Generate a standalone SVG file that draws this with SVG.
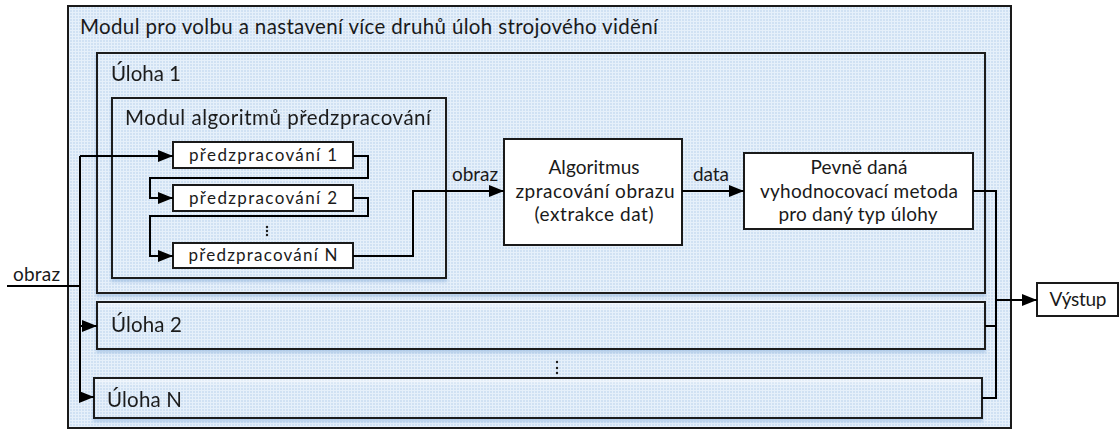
<svg xmlns="http://www.w3.org/2000/svg" width="1120" height="430" viewBox="0 0 1120 430">
  <defs>
    <!-- fine light-blue grid used as the module fill -->
    <pattern id="grid" width="3" height="3" patternUnits="userSpaceOnUse">
      <rect width="3" height="3" fill="#d0e1f3"/>
      <path d="M0 0.5 H3 M0.5 0 V3" stroke="#e6f0fa" stroke-width="1"/>
    </pattern>
    <linearGradient id="sheen" x1="0" y1="0" x2="0" y2="1">
      <stop offset="0" stop-color="#ffffff" stop-opacity="0.55"/>
      <stop offset="0.18" stop-color="#ffffff" stop-opacity="0"/>
    </linearGradient>
    <filter id="shadow" x="-5%" y="-5%" width="110%" height="125%">
      <feGaussianBlur in="SourceAlpha" stdDeviation="1.5"/>
      <feOffset dy="3" result="b"/>
      <feFlood flood-color="#8fb3dc" flood-opacity="0.55"/>
      <feComposite in2="b" operator="in"/>
      <feMerge><feMergeNode/><feMergeNode in="SourceGraphic"/></feMerge>
    </filter>
    <marker id="arrow" markerUnits="userSpaceOnUse" markerWidth="16" markerHeight="13" refX="15" refY="6" orient="auto">
      <path d="M0 0 L15 6 L0 12 Z" fill="#000"/>
    </marker>
  </defs>
  <style>
    .module { fill: url(#grid); stroke: #1a1a1a; stroke-width: 2; }
    .sheen { fill: url(#sheen); stroke: none; }
    .box { fill: #ffffff; stroke: #1a1a1a; stroke-width: 2; }
    .t { font-family: Lato, "Liberation Sans", sans-serif; fill: #1a1a1a; }
    .big { font-size: 20.5px; }
    .mid { font-size: 19px; }
    .small { font-size: 17px; }
    .c { text-anchor: middle; }
    .wire { fill: none; stroke: #000; stroke-width: 2; }
    .dot { fill: #1a1a1a; }
  </style>

  <!-- outer module -->
  <g id="module-outer">
    <rect class="module" x="68" y="6" width="943" height="422"/>
    <text class="t big" x="80" y="34" textLength="578">Modul pro volbu a nastavení více druhů úloh strojového vidění</text>
  </g>

  <!-- task 1 -->
  <g id="task-1" filter="url(#shadow)">
    <rect class="module" x="97" y="53" width="888" height="240"/>
    <text class="t big" x="111" y="81" textLength="70">Úloha 1</text>
  </g>

  <g id="preprocessing-module" filter="url(#shadow)">
    <rect class="module" x="112" y="98" width="334" height="180"/>
    <text class="t big" x="125" y="125" textLength="306">Modul algoritmů předzpracování</text>
  </g>

  <g id="pre-1">
    <rect class="box" x="173" y="142" width="180" height="26"/>
    <text class="t small c" x="263" y="161" textLength="148">předzpracování 1</text>
  </g>
  <g id="pre-2">
    <rect class="box" x="173" y="185" width="180" height="26"/>
    <text class="t small c" x="263" y="204" textLength="148">předzpracování 2</text>
  </g>
  <g id="pre-dots">
    <circle class="dot" cx="267" cy="227" r="1.2"/>
    <circle class="dot" cx="267" cy="231" r="1.2"/>
    <circle class="dot" cx="267" cy="235" r="1.2"/>
  </g>
  <g id="pre-n">
    <rect class="box" x="173" y="243" width="180" height="25"/>
    <text class="t small c" x="263" y="261" textLength="149">předzpracování N</text>
  </g>

  <g id="algorithm">
    <rect class="box" x="504" y="139" width="178" height="106"/>
    <text class="t mid c" x="594" y="174" textLength="91">Algoritmus</text>
    <text class="t mid c" x="595" y="198" textLength="159">zpracování obrazu</text>
    <text class="t mid c" x="594" y="221" textLength="119">(extrakce dat)</text>
  </g>

  <g id="evaluation">
    <rect class="box" x="744" y="153" width="229" height="76"/>
    <text class="t mid c" x="859" y="174" textLength="97">Pevně daná</text>
    <text class="t mid c" x="859" y="198" textLength="198">vyhodnocovací metoda</text>
    <text class="t mid c" x="858" y="221" textLength="159">pro daný typ úlohy</text>
  </g>

  <!-- task 2 and task N -->
  <g id="task-2" filter="url(#shadow)">
    <rect class="module" x="97" y="302" width="888" height="47"/>
    <rect class="sheen" x="98" y="303" width="886" height="45"/>
    <text class="t big" x="111" y="332" textLength="71">Úloha 2</text>
  </g>
  <g id="task-dots">
    <circle class="dot" cx="557" cy="362" r="1.2"/>
    <circle class="dot" cx="557" cy="368" r="1.2"/>
    <circle class="dot" cx="557" cy="373" r="1.2"/>
  </g>
  <g id="task-n" filter="url(#shadow)">
    <rect class="module" x="94" y="378" width="888" height="40"/>
    <rect class="sheen" x="95" y="379" width="886" height="38"/>
    <text class="t big" x="107" y="407" textLength="75">Úloha N</text>
  </g>

  <g id="output">
    <rect class="box" x="1037" y="283" width="81" height="33"/>
    <text class="t mid c" x="1078" y="306" textLength="57">Výstup</text>
  </g>

  <!-- connectors -->
  <g id="connectors">
    <path class="wire" d="M7 286 H80"/>
    <path class="wire" d="M80 156 V397"/>
    <path class="wire" d="M80 156 H173" marker-end="url(#arrow)"/>
    <path class="wire" d="M80 326 H97" marker-end="url(#arrow)"/>
    <path class="wire" d="M80 397 H94" marker-end="url(#arrow)"/>
    <path class="wire" d="M353 156 H368 V178 H150 V198 H173" marker-end="url(#arrow)"/>
    <path class="wire" d="M353 198 H368 V216 H150 V256 H173" marker-end="url(#arrow)"/>
    <path class="wire" d="M353 256 H413 V191 H504" marker-end="url(#arrow)"/>
    <path class="wire" d="M682 191 H744" marker-end="url(#arrow)"/>
    <path class="wire" d="M973 191 H996 V398 H982"/>
    <path class="wire" d="M985 326 H996"/>
    <path class="wire" d="M996 300 H1037" marker-end="url(#arrow)"/>
    <text class="t mid" x="13" y="281" textLength="47">obraz</text>
    <text class="t mid" x="452" y="181" textLength="46">obraz</text>
    <text class="t mid" x="693" y="181" textLength="36">data</text>
  </g>
</svg>
